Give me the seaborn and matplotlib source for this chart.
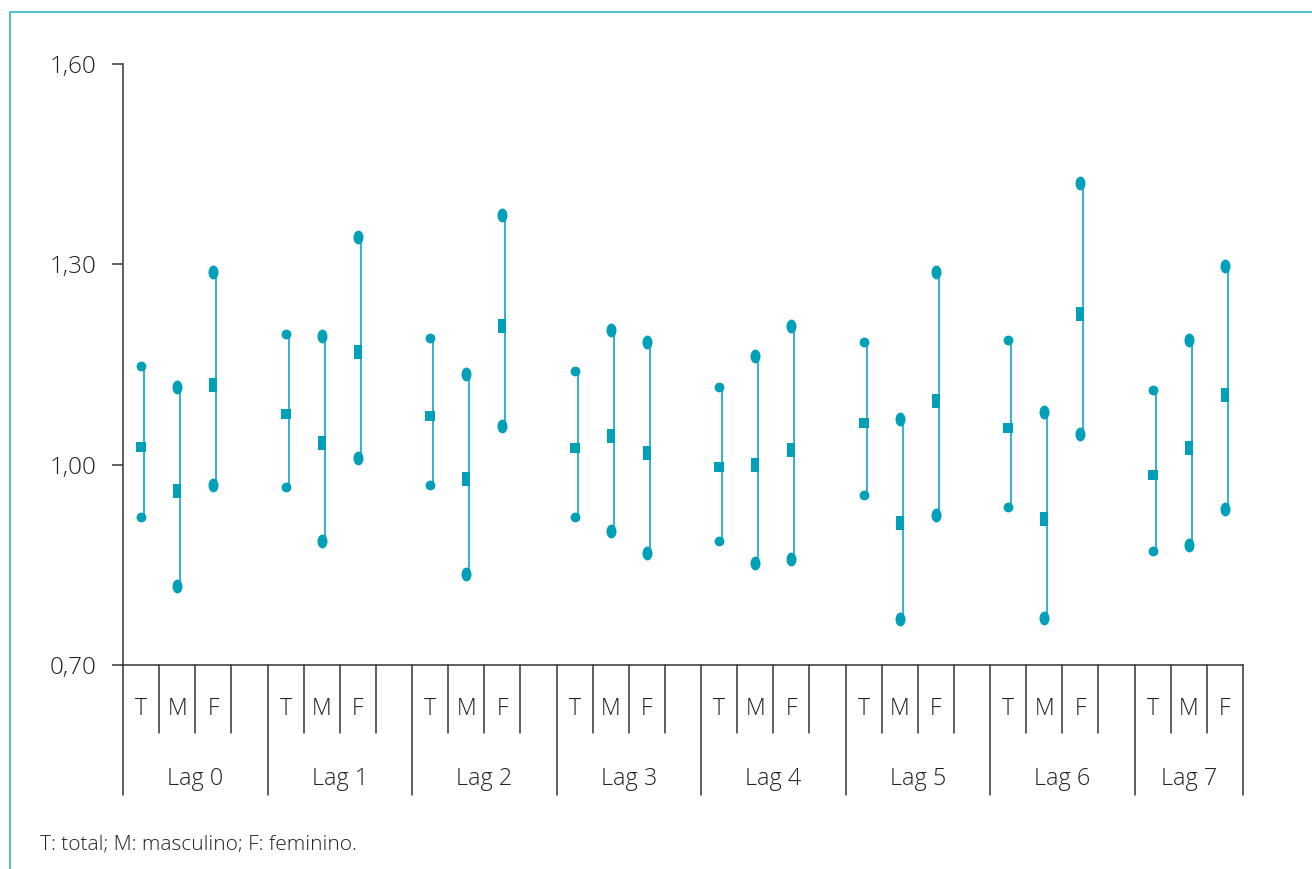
import numpy as np
import pandas as pd
import seaborn as sns
import matplotlib
matplotlib.use("Agg")
import matplotlib.pyplot as plt
from matplotlib.path import Path
import matplotlib.transforms as mtransforms
from matplotlib.patches import Rectangle

# ---------------- data ----------------
lags = ["Lag 0", "Lag 1", "Lag 2", "Lag 3", "Lag 4", "Lag 5", "Lag 6", "Lag 7"]
groups = ["T", "M", "F"]

est_T  = [1.027, 1.076, 1.073, 1.025, 0.996, 1.063, 1.055, 0.985]
low_T  = [0.921, 0.967, 0.969, 0.921, 0.886, 0.954, 0.936, 0.870]
high_T = [1.148, 1.195, 1.189, 1.141, 1.117, 1.184, 1.186, 1.112]

est_M  = [0.960, 1.033, 0.979, 1.043, 0.999, 0.913, 0.918, 1.025]
low_M  = [0.819, 0.886, 0.837, 0.901, 0.852, 0.769, 0.771, 0.879]
high_M = [1.117, 1.192, 1.136, 1.202, 1.163, 1.069, 1.079, 1.187]

est_F  = [1.120, 1.168, 1.207, 1.018, 1.022, 1.096, 1.225, 1.105]
low_F  = [0.970, 1.010, 1.058, 0.868, 0.858, 0.924, 1.046, 0.933]
high_F = [1.289, 1.341, 1.374, 1.184, 1.207, 1.288, 1.422, 1.298]

y_ticks = [0.70, 1.00, 1.30, 1.60]
y_tick_labels = ["0,70", "1,00", "1,30", "1,60"]
footnote = "T: total; M: masculino; F: feminino."

# ---------------- table ----------------
series = {"T": (est_T, low_T, high_T), "M": (est_M, low_M, high_M), "F": (est_F, low_F, high_F)}
rows = []
for i, lag in enumerate(lags):
    for j, g in enumerate(groups):
        e, lo, hi = series[g]
        rows.append(dict(lag=lag, group=g, x=4 * i + j + 0.5, est=e[i], low=lo[i], high=hi[i]))
df = pd.DataFrame(rows)
df_T = df[df.group == "T"]
df_MF = df[df.group != "T"]

# ---------------- style ----------------
sns.set_style("white")
plt.rcParams["font.family"] = ["Open Sans", "DejaVu Sans"]
TEXT = "#222222"
AX = "#333333"
MK = "#00A0B8"
LN = "#30B4C9"

fig = plt.figure(figsize=(13.12, 8.69), dpi=100)
W, H = 1312, 869
ax = fig.add_axes([123 / W, (H - 665) / H, 1120 / W, 601 / H])

# marker shapes
ellipse = Path.unit_circle().transformed(mtransforms.Affine2D().scale(0.72, 1.0))
rect_tall = Path.unit_rectangle().transformed(mtransforms.Affine2D().translate(-0.5, -0.5).scale(0.68, 1.0))
rect_short = Path.unit_rectangle().transformed(mtransforms.Affine2D().translate(-0.5, -0.5).scale(0.9, 1.0))

# whiskers, slightly offset to the right of the markers
offset = mtransforms.ScaledTranslation(3 / 100, 0, fig.dpi_scale_trans)
lc = ax.vlines(df.x, df.low, df.high, color=LN, lw=1.4, zorder=2)
lc.set_transform(ax.transData + offset)

# endpoints
for col in ["low", "high"]:
    sns.scatterplot(data=df_T, x="x", y=col, ax=ax, marker="o", s=50, color=MK,
                    linewidth=0, zorder=3, legend=False)
    sns.scatterplot(data=df_MF, x="x", y=col, ax=ax, marker=ellipse, s=100, color=MK,
                    linewidth=0, zorder=3, legend=False)
# point estimates
sns.scatterplot(data=df_T, x="x", y="est", ax=ax, marker=rect_short, s=52, color=MK,
                linewidth=0, zorder=4, legend=False)
sns.scatterplot(data=df_MF, x="x", y="est", ax=ax, marker=rect_tall, s=88, color=MK,
                linewidth=0, zorder=4, legend=False)

# axes
ax.set_xlim(0, 31)
ax.set_ylim(0.70, 1.60)
ax.set_yticks(y_ticks)
ax.set_yticklabels(y_tick_labels)
ax.set_xticks([])
ax.set_xlabel("")
ax.set_ylabel("")
for s in ["top", "right"]:
    ax.spines[s].set_visible(False)
for s in ["left", "bottom"]:
    ax.spines[s].set_color(AX)
    ax.spines[s].set_linewidth(1.1)
ax.tick_params(axis="y", direction="out", length=8, width=1.1, color=AX,
               labelsize=17.5, labelcolor=TEXT, pad=11, left=True)
for t in ax.get_yticklabels():
    t.set_fontweight("light")

# category table under the axis
tr = ax.get_xaxis_transform()
y_in = -(733 - 665) / 601
y_out = -(795 - 665) / 601
y_grp = -(709 - 665) / 601
y_lag = -(779 - 665) / 601
n = len(lags)
bounds = [4 * i for i in range(n)] + [4 * (n - 1) + 3]
for b in bounds:
    ax.plot([b, b], [0, y_out], transform=tr, color=AX, lw=1.1, clip_on=False)
for i in range(n):
    inner = [4 * i + 1, 4 * i + 2] + ([4 * i + 3] if i < n - 1 else [])
    for b in inner:
        ax.plot([b, b], [0, y_in], transform=tr, color=AX, lw=1.1, clip_on=False)
    for j, g in enumerate(groups):
        ax.text(4 * i + j + 0.5, y_grp, g, transform=tr, ha="center", va="center",
                fontsize=16.5, color=TEXT, fontweight="light")
    cx = 4 * i + 2 if i < n - 1 else 4 * i + 1.5
    ax.text(cx, y_lag, lags[i], transform=tr, ha="center", va="center", fontsize=16.8,
            color=TEXT, fontweight="light")

# footnote
fig.text(40 / W, 1 - 845 / H, footnote, ha="left", va="center", fontsize=15,
         color=TEXT, fontweight="light")

# frame border (clipped at right and bottom)
fig.patches.append(Rectangle((10 / W, -0.1), 1.2, (H - 12) / H + 0.1, transform=fig.transFigure,
                             fill=False, edgecolor="#2BB5C9", lw=1.2, zorder=0))

fig.savefig("out.png", dpi=100)
